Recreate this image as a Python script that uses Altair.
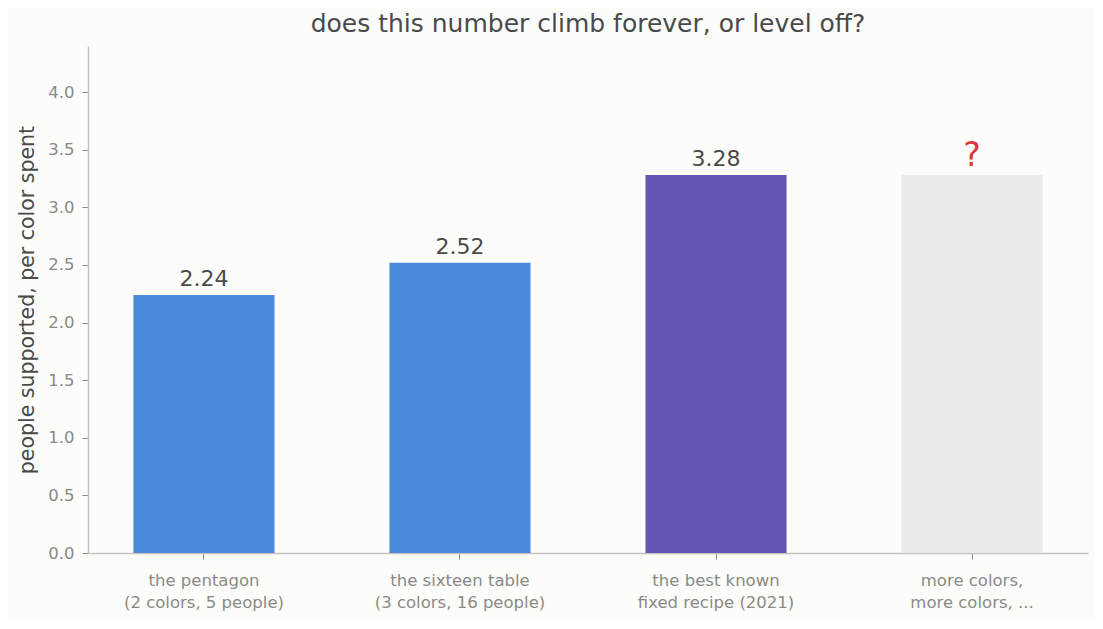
import pandas as pd
import altair as alt

# values
categories = [
    "the pentagon\n(2 colors, 5 people)",
    "the sixteen table\n(3 colors, 16 people)",
    "the best known\nfixed recipe (2021)",
    "more colors,\nmore colors, ...",
]
values = [2.24, 2.52, 3.28, 3.28]
labels = ["2.24", "2.52", "3.28", "?"]
bar_colors = ["#4a8bdb", "#4a8bdb", "#6557b1", "#eaeae8"]
label_colors = ["#4a4a4a", "#4a4a4a", "#4a4a4a", "#d93a3a"]
label_sizes = [22, 22, 22, 33]

FONT = "DejaVu Sans"

data = pd.DataFrame(
    {
        "cat": categories,
        "value": values,
        "label": labels,
        "bar_color": bar_colors,
        "label_color": label_colors,
        "label_size": label_sizes,
    }
)

x = alt.X(
    "cat:N",
    sort=categories,
    title=None,
    scale=alt.Scale(paddingInner=0.449, paddingOuter=0.1775),
    axis=alt.Axis(
        labelAngle=0,
        labelExpr="split(datum.label, '\\n')",
        labelFont=FONT,
        labelFontSize=16.5,
        labelColor="#8a8a86",
        labelBaseline="alphabetic",
        labelPadding=26,
        labelLineHeight=22,
        tickColor="#8a8a86",
        tickSize=6,
        domainColor="#c4c4bc",
        domainWidth=1.5,
    ),
)

y = alt.Y(
    "value:Q",
    title="people supported, per color spent",
    scale=alt.Scale(domain=[0, 4.4], nice=False),
    axis=alt.Axis(
        values=[0, 0.5, 1, 1.5, 2, 2.5, 3, 3.5, 4],
        format=".1f",
        grid=False,
        labelFont=FONT,
        labelFontSize=16.5,
        labelColor="#8a8a86",
        labelPadding=8,
        tickColor="#8a8a86",
        tickSize=6,
        domainColor="#c4c4bc",
        domainWidth=1.5,
        titleFont=FONT,
        titleFontSize=20.5,
        titleFontWeight="normal",
        titleColor="#4a4a4a",
        titlePadding=10,
    ),
)

base = alt.Chart(data)

bars = base.mark_bar().encode(
    x=x,
    y=y,
    color=alt.Color("bar_color:N", scale=None, legend=None),
)

text = base.mark_text(baseline="alphabetic", dy=-9, font=FONT).encode(
    x=alt.X("cat:N", sort=categories),
    y="value:Q",
    text="label:N",
    color=alt.Color("label_color:N", scale=None, legend=None),
    size=alt.Size("label_size:Q", scale=None, legend=None),
)

chart = (
    alt.layer(bars, text)
    .properties(
        width=1000,
        height=507,
        padding={"left": 80, "top": 38, "right": 7, "bottom": 68},
        autosize=alt.AutoSizeParams(type="none"),
        background="#fcfcfa",
        title=alt.TitleParams(
            "does this number climb forever, or level off?",
            font=FONT,
            fontSize=25,
            fontWeight="normal",
            color="#4a4a4a",
            anchor="middle",
            offset=9,
        ),
    )
    .configure_view(stroke=None)
)

chart.save("out.html", embed_options={"renderer": "svg", "actions": False})
